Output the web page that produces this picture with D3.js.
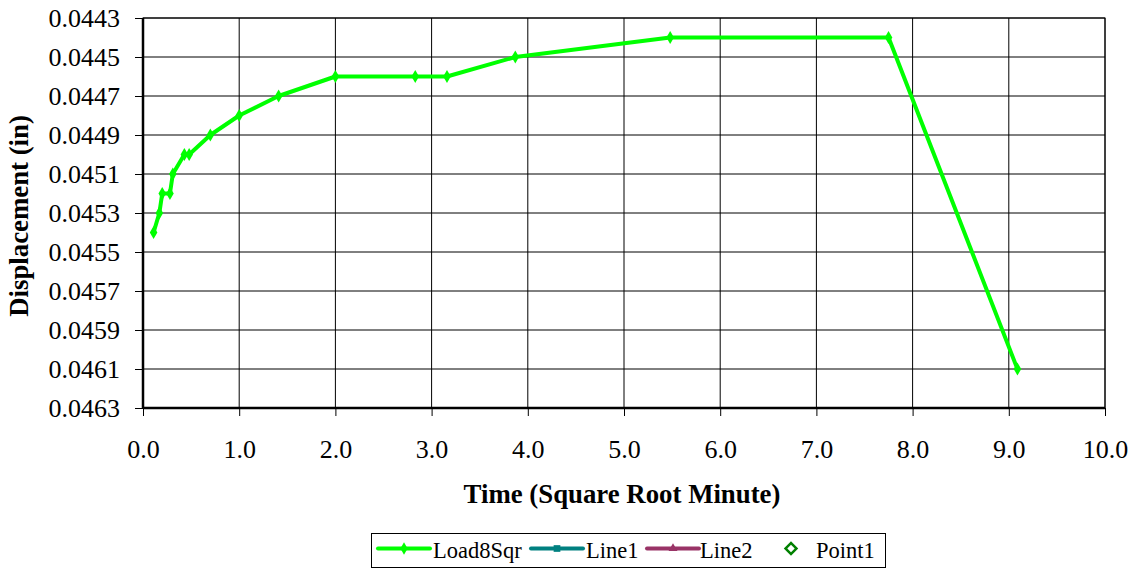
<!DOCTYPE html>
<html><head><meta charset="utf-8">
<script src="https://cdn.jsdelivr.net/npm/d3@7"></script>
<style>body{margin:0;background:#fff}svg{display:block}text{font-family:"Liberation Serif","Times New Roman",serif}</style>
</head><body><svg id="c" width="1133" height="569"></svg>
<script>
const timeSqrt = [0.11,0.17,0.2,0.28,0.31,0.43,0.48,0.7,1.0,1.41,2.0,2.83,3.16,3.87,5.48,7.75,9.09];
const displacement = [0.0454,0.0453,0.0452,0.0452,0.0451,0.0450,0.0450,0.0449,0.0448,0.0447,0.0446,0.0446,0.0446,0.0445,0.0444,0.0444,0.0461];
const xTicks = [0,1,2,3,4,5,6,7,8,9,10];
const yTicks = [0.0443,0.0445,0.0447,0.0449,0.0451,0.0453,0.0455,0.0457,0.0459,0.0461,0.0463];
const legendNames = ["Load8Sqr","Line1","Line2","Point1"];

const FONT = '"Liberation Serif","Times New Roman",serif';
const svg = d3.select("#c");
const L=143, R=1105, T=18, B=408;
const x = d3.scaleLinear().domain([0,10]).range([L,R]);
const y = d3.scaleLinear().domain([0.0443,0.0463]).range([T,B]);

// grid
svg.append("g").selectAll("line").data(xTicks.slice(1)).join("line")
  .attr("x1",d=>x(d)).attr("x2",d=>x(d)).attr("y1",T).attr("y2",B)
  .attr("stroke","#000").attr("stroke-width",1);
svg.append("g").selectAll("line").data(yTicks.slice(0,-1)).join("line")
  .attr("x1",L).attr("x2",R).attr("y1",d=>y(d)).attr("y2",d=>y(d))
  .attr("stroke","#000").attr("stroke-width",1);
svg.append("rect").attr("x",L).attr("y",T).attr("width",R-L).attr("height",B-T)
  .attr("fill","none").attr("stroke","#000").attr("stroke-width",1);

// axes
const xAxis = d3.axisBottom(x).tickValues(xTicks).tickFormat(d3.format(".1f")).tickSize(8).tickPadding(24);
const gx = svg.append("g").attr("transform",`translate(0,${B})`).call(xAxis).attr("font-family",FONT);
gx.select(".domain").attr("stroke-width",2.5).attr("d",`M${L},0H${R}`);
gx.selectAll("line").attr("stroke-width",1);
gx.selectAll("text").attr("font-size",26).attr("fill","#000");
const yAxis = d3.axisLeft(y).tickValues(yTicks).tickFormat(d3.format(".4f")).tickSize(8).tickPadding(15);
const gy = svg.append("g").attr("transform",`translate(${L},0)`).call(yAxis).attr("font-family",FONT);
gy.select(".domain").attr("stroke-width",2.5).attr("d",`M0,${T}V${B}`);
gy.selectAll("text").attr("font-size",26).attr("fill","#000");

// titles
svg.append("text").attr("x",622).attr("y",503).attr("text-anchor","middle").attr("font-family",FONT)
  .attr("font-size",26.8).attr("font-weight","bold").text("Time (Square Root Minute)");
svg.append("text").attr("transform",`translate(28,216) rotate(-90)`).attr("text-anchor","middle").attr("font-family",FONT)
  .attr("font-size",26.8).attr("font-weight","bold").text("Displacement (in)");

// series
const pts = timeSqrt.map((t,i)=>[t,displacement[i]]);
svg.append("path").datum(pts).attr("fill","none").attr("stroke","#00ff00").attr("stroke-width",4)
  .attr("stroke-linejoin","round")
  .attr("d",d3.line().x(d=>x(d[0])).y(d=>y(d[1])));
const diamond = d3.symbol().type(d3.symbolDiamond).size(50);
svg.append("g").selectAll("path").data(pts).join("path")
  .attr("transform",d=>`translate(${x(d[0])},${y(d[1])})`)
  .attr("d",diamond).attr("fill","#00ff00");

// legend
const lg = svg.append("g");
lg.append("rect").attr("x",371.5).attr("y",533.5).attr("width",514).attr("height",34)
  .attr("fill","#fff").attr("stroke","#000").attr("stroke-width",1);
const items = [
  {name:legendNames[0],color:"#00ff00",sym:d3.symbolDiamond,x0:378,tx:433,line:true,fill:true,size:45},
  {name:legendNames[1],color:"#008080",sym:d3.symbolSquare,x0:531,tx:586,line:true,fill:true,size:45},
  {name:legendNames[2],color:"#993366",sym:d3.symbolTriangle,x0:647,tx:700,line:true,fill:true,size:35},
  {name:legendNames[3],color:"#008000",sym:d3.symbolSquare,x0:765,tx:816,line:false,fill:false,size:60}
];
const ly=548.5;
items.forEach(it=>{
  if(it.line) lg.append("line").attr("x1",it.x0).attr("x2",it.x0+52).attr("y1",ly).attr("y2",ly)
    .attr("stroke",it.color).attr("stroke-width",4).attr("stroke-linecap","round");
  const s = lg.append("path").attr("d",d3.symbol().type(it.sym).size(it.size))
    .attr("fill",it.fill?it.color:"none").attr("stroke",it.fill?"none":it.color).attr("stroke-width",2.5);
  s.attr("transform",`translate(${it.x0+26},${ly})` + (it.fill?"":" rotate(45)"));
  lg.append("text").attr("x",it.tx).attr("y",558).attr("font-family",FONT).attr("font-size",22.5).text(it.name);
});
</script></body></html>
